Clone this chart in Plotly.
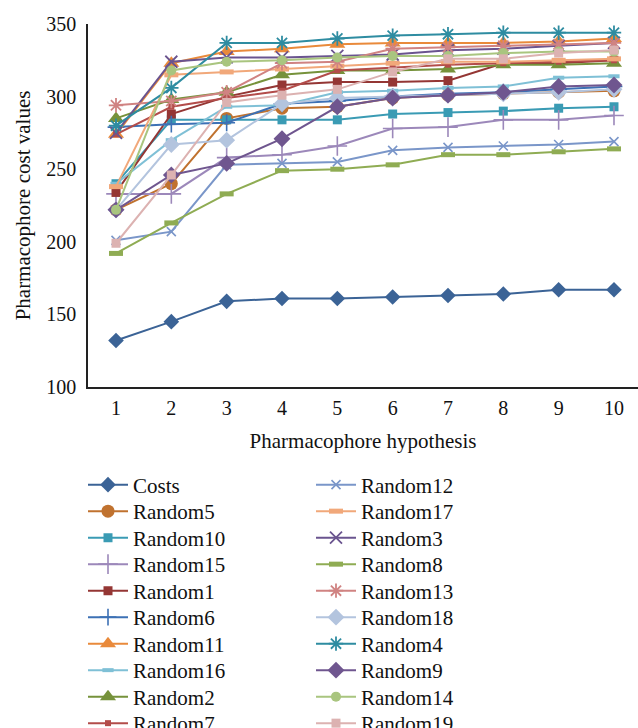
import plotly.graph_objects as go

hypothesis = [1, 2, 3, 4, 5, 6, 7, 8, 9, 10]

costs    = [132, 145, 159, 161, 161, 162, 163, 164, 167, 167]
random1  = [234, 288, 300, 308, 310, 310, 311, 323, 323, 325]
random2  = [285, 298, 303, 315, 318, 318, 319, 322, 322, 323]
random3  = [275, 324, 327, 327, 328, 329, 332, 333, 335, 337]
random4  = [280, 306, 337, 337, 340, 342, 343, 344, 344, 344]
random5  = [222, 240, 285, 292, 293, 299, 301, 302, 303, 304]
random6  = [279, 281, 282, 295, 297, 300, 302, 303, 305, 307]
random7  = [274, 293, 299, 304, 318, 320, 322, 323, 324, 325]
random8  = [192, 213, 233, 249, 250, 253, 260, 260, 262, 264]
random9  = [222, 246, 254, 271, 293, 299, 301, 303, 307, 308]
random10 = [240, 284, 284, 284, 284, 288, 289, 290, 292, 293]
random11 = [274, 323, 331, 333, 336, 337, 337, 337, 338, 340]
random12 = [201, 207, 253, 254, 255, 263, 265, 266, 267, 269]
random13 = [294, 297, 303, 323, 324, 333, 334, 335, 336, 337]
random14 = [222, 318, 324, 325, 327, 328, 328, 330, 331, 331]
random15 = [233, 233, 258, 260, 266, 278, 279, 284, 284, 287]
random16 = [240, 270, 293, 294, 303, 304, 306, 307, 313, 314]
random17 = [238, 315, 317, 319, 321, 323, 324, 324, 325, 326]
random18 = [222, 267, 270, 295, 299, 300, 301, 302, 303, 305]
random19 = [199, 246, 296, 301, 305, 317, 326, 326, 330, 332]

y_ticks = [100, 150, 200, 250, 300, 350]

FONT = "Liberation Serif"

# (name, values, color, symbol, size, marker line width)
col1 = [
    ("Costs",    costs,    "#3b6396", "diamond",     12, 0),
    ("Random5",  random5,  "#c0722f", "circle",      13, 0),
    ("Random10", random10, "#3a9bb4", "square",      9,  0),
    ("Random15", random15, "#9c88ba", "cross-thin",  14, 1.6),
    ("Random1",  random1,  "#943634", "square",      9,  0),
    ("Random6",  random6,  "#3d71b5", "cross-thin",  12, 1.6),
    ("Random11", random11, "#e98a3b", "triangle-up", 14, 0),
    ("Random16", random16, "#7fc0d6", "line-ew",     8,  4),
    ("Random2",  random2,  "#76923b", "triangle-up", 14, 0),
    ("Random7",  random7,  "#b34c4a", "square",      6,  0),
]
col2 = [
    ("Random12", random12, "#7a96c9", "x-thin",      9,  1.6),
    ("Random17", random17, "#f1a87a", "line-ew",     10, 5),
    ("Random3",  random3,  "#6a548f", "x-thin",      12, 1.8),
    ("Random8",  random8,  "#8fac53", "line-ew",     10, 5),
    ("Random13", random13, "#d08382", "asterisk",    12, 1.8),
    ("Random18", random18, "#b3c4de", "diamond",     13, 0),
    ("Random4",  random4,  "#2e8ca1", "asterisk",    12, 1.8),
    ("Random9",  random9,  "#6f568f", "diamond",     13, 0),
    ("Random14", random14, "#a9c57f", "circle",      10, 0),
    ("Random19", random19, "#dcb2b1", "square",      9,  0),
]

W, H = 638, 728
ml, mr, mt, mb = 88, 0, 24, 341
pw = W - ml - mr
ph = H - mt - mb

def pyf(pix):
    return (H - mb - pix) / ph

def pxf(pix):
    return (pix - ml) / pw

ROW0, ROWSTEP = 485, 26.5
COLX = [83, 311]

fig = go.Figure()
legends = {}
k = 0
for c, col in enumerate([col1, col2]):
    for r, (name, vals, color, sym, size, lw) in enumerate(col):
        k += 1
        lid = "legend" if k == 1 else f"legend{k}"
        marker = dict(symbol=sym, size=size, color=color)
        if lw:
            marker["line"] = dict(width=lw, color=color)
        fig.add_trace(go.Scatter(
            x=hypothesis, y=vals, name=name, mode="lines+markers",
            line=dict(color=color, width=2), marker=marker, legend=lid,
        ))
        legends[lid] = dict(
            x=pxf(COLX[c]), y=pyf(ROW0 + r * ROWSTEP),
            xanchor="left", yanchor="middle", orientation="v",
            font=dict(family=FONT, size=21, color="#111111"),
            bgcolor="rgba(0,0,0,0)", borderwidth=0,
            itemwidth=40, maxheight=2000,
            itemclick=False, itemdoubleclick=False,
        )

fig.update_layout(
    width=W, height=H,
    margin=dict(l=ml, r=mr, t=mt, b=mb, autoexpand=False),
    paper_bgcolor="white", plot_bgcolor="white",
    font=dict(family=FONT, size=20, color="#111111"),
    showlegend=True,
    xaxis=dict(
        range=[0.494, 10.434], tickmode="array", tickvals=hypothesis,
        ticktext=[str(v) for v in hypothesis],
        showgrid=False, zeroline=False, showline=True, linecolor="#222222",
        linewidth=1.5, ticks="", ticklabelstandoff=2,
        tickfont=dict(family=FONT, size=20, color="#111111"),
        title=dict(text="Pharmacophore hypothesis", standoff=16,
                   font=dict(family=FONT, size=21, color="#111111")),
    ),
    yaxis=dict(
        range=[100, 350], tickmode="array", tickvals=y_ticks,
        showgrid=False, zeroline=False, showline=True, linecolor="#222222",
        linewidth=1.5, ticks="", ticklabelstandoff=6,
        tickfont=dict(family=FONT, size=20, color="#111111"),
        title=dict(text="Pharmacophore cost values", standoff=10,
                   font=dict(family=FONT, size=21, color="#111111")),
    ),
)
fig.update_layout(**legends)

fig.write_html("out.html")
